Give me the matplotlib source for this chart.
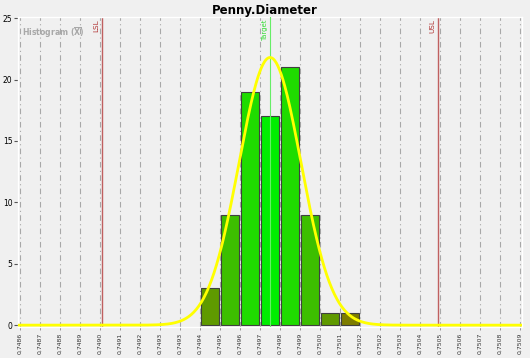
import numpy as np
import matplotlib
matplotlib.use('Agg')
import matplotlib.pyplot as plt

# bin edge labels as shown on the x axis (rounded by the source app)
tick_labels = ['0,7486', '0,7487', '0,7488', '0,7489', '0,7490', '0,7491', '0,7492',
               '0,7493', '0,7493', '0,7494', '0,7495', '0,7496', '0,7497', '0,7498',
               '0,7499', '0,7500', '0,7501', '0,7502', '0,7502', '0,7503', '0,7504',
               '0,7505', '0,7506', '0,7507', '0,7508', '0,7509']
# counts per bin (bin i lies between tick i and tick i+1)
counts = [0, 0, 0, 0, 0, 0, 0, 0, 0, 3, 9, 19, 17, 21, 9, 1, 1, 0, 0, 0, 0, 0, 0, 0, 0]
bar_colors = ['#5f9a00', '#3dbf00', '#1fdc00', '#00ee00', '#1fdc00', '#3dbf00', '#5f9a00', '#7d7d00']

# spec limits / target, in tick units
lsl = 4.1
usl = 20.9
target = 12.5
# fitted normal (tick units)
fit_mean = 12.5
fit_sigma = 1.55
fit_peak = 21.8

plt.rcParams['mathtext.fontset'] = 'dejavusans'
bg = '#f0f0f0'
fig = plt.figure(figsize=(5.3, 3.58), dpi=100, facecolor=bg)
ax = fig.add_axes([0.034, 0.0866, 0.951, 0.866], facecolor=bg)

n_ticks = len(tick_labels)
ticks = np.arange(n_ticks)

for t in ticks:
    ax.axvline(t, color='#a8a8a8', lw=0.8, ls=(0, (5, 3, 1, 3)), zorder=1)

nz = [i for i, c in enumerate(counts) if c > 0]
ax.bar([i + 0.5 for i in nz], [counts[i] for i in nz], width=0.92,
       color=bar_colors, edgecolor='#404040', linewidth=0.8, zorder=3)

ax.axvline(lsl, color='#c06060', lw=1.0, zorder=2)
ax.axvline(usl, color='#c06060', lw=1.0, zorder=2)
ax.axvline(target, color='#66ee66', lw=0.8, zorder=4)
ax.text(lsl - 0.12, 24.9, 'LSL', rotation=90, color='#b03030', fontsize=5.2,
        ha='right', va='top', zorder=5)
ax.text(usl - 0.12, 24.9, 'USL', rotation=90, color='#b03030', fontsize=5.2,
        ha='right', va='top', zorder=5)
ax.text(target - 0.1, 24.9, 'Target', rotation=90, color='#33dd33', fontsize=5,
        ha='right', va='top', zorder=5)

xs = np.linspace(-0.1, n_ticks - 0.9, 600)
ys = fit_peak * np.exp(-(xs - fit_mean) ** 2 / (2 * fit_sigma ** 2))
ax.plot(xs, ys, color='#ffff00', lw=2, zorder=6, solid_capstyle='butt')

ax.text(0.1, 24.4, r'Histogram ($\mathbf{\overline{X}}$)', color='#a8a8a8', fontsize=5.6,
        fontweight='bold', ha='left', va='top', zorder=5)

ax.set_xlim(-0.1, n_ticks - 0.9)
ax.set_ylim(-0.15, 25.1)
ax.set_xticks(ticks)
ax.set_xticklabels(tick_labels, rotation=90, fontsize=4.4, color='#333333')
ax.set_yticks([0, 5, 10, 15, 20, 25])
ax.tick_params(axis='y', labelsize=5.5, length=3, width=0.8, color='#555555', pad=1)
ax.tick_params(axis='x', length=2.5, width=0.6, color='#888888', pad=1.5)
for s in ax.spines.values():
    s.set_color('white')
    s.set_linewidth(1)

fig.text(0.5, 0.972, 'Penny.Diameter', ha='center', va='center',
         fontsize=8.5, fontweight='bold')

fig.savefig('out.png', dpi=100, facecolor=bg)
